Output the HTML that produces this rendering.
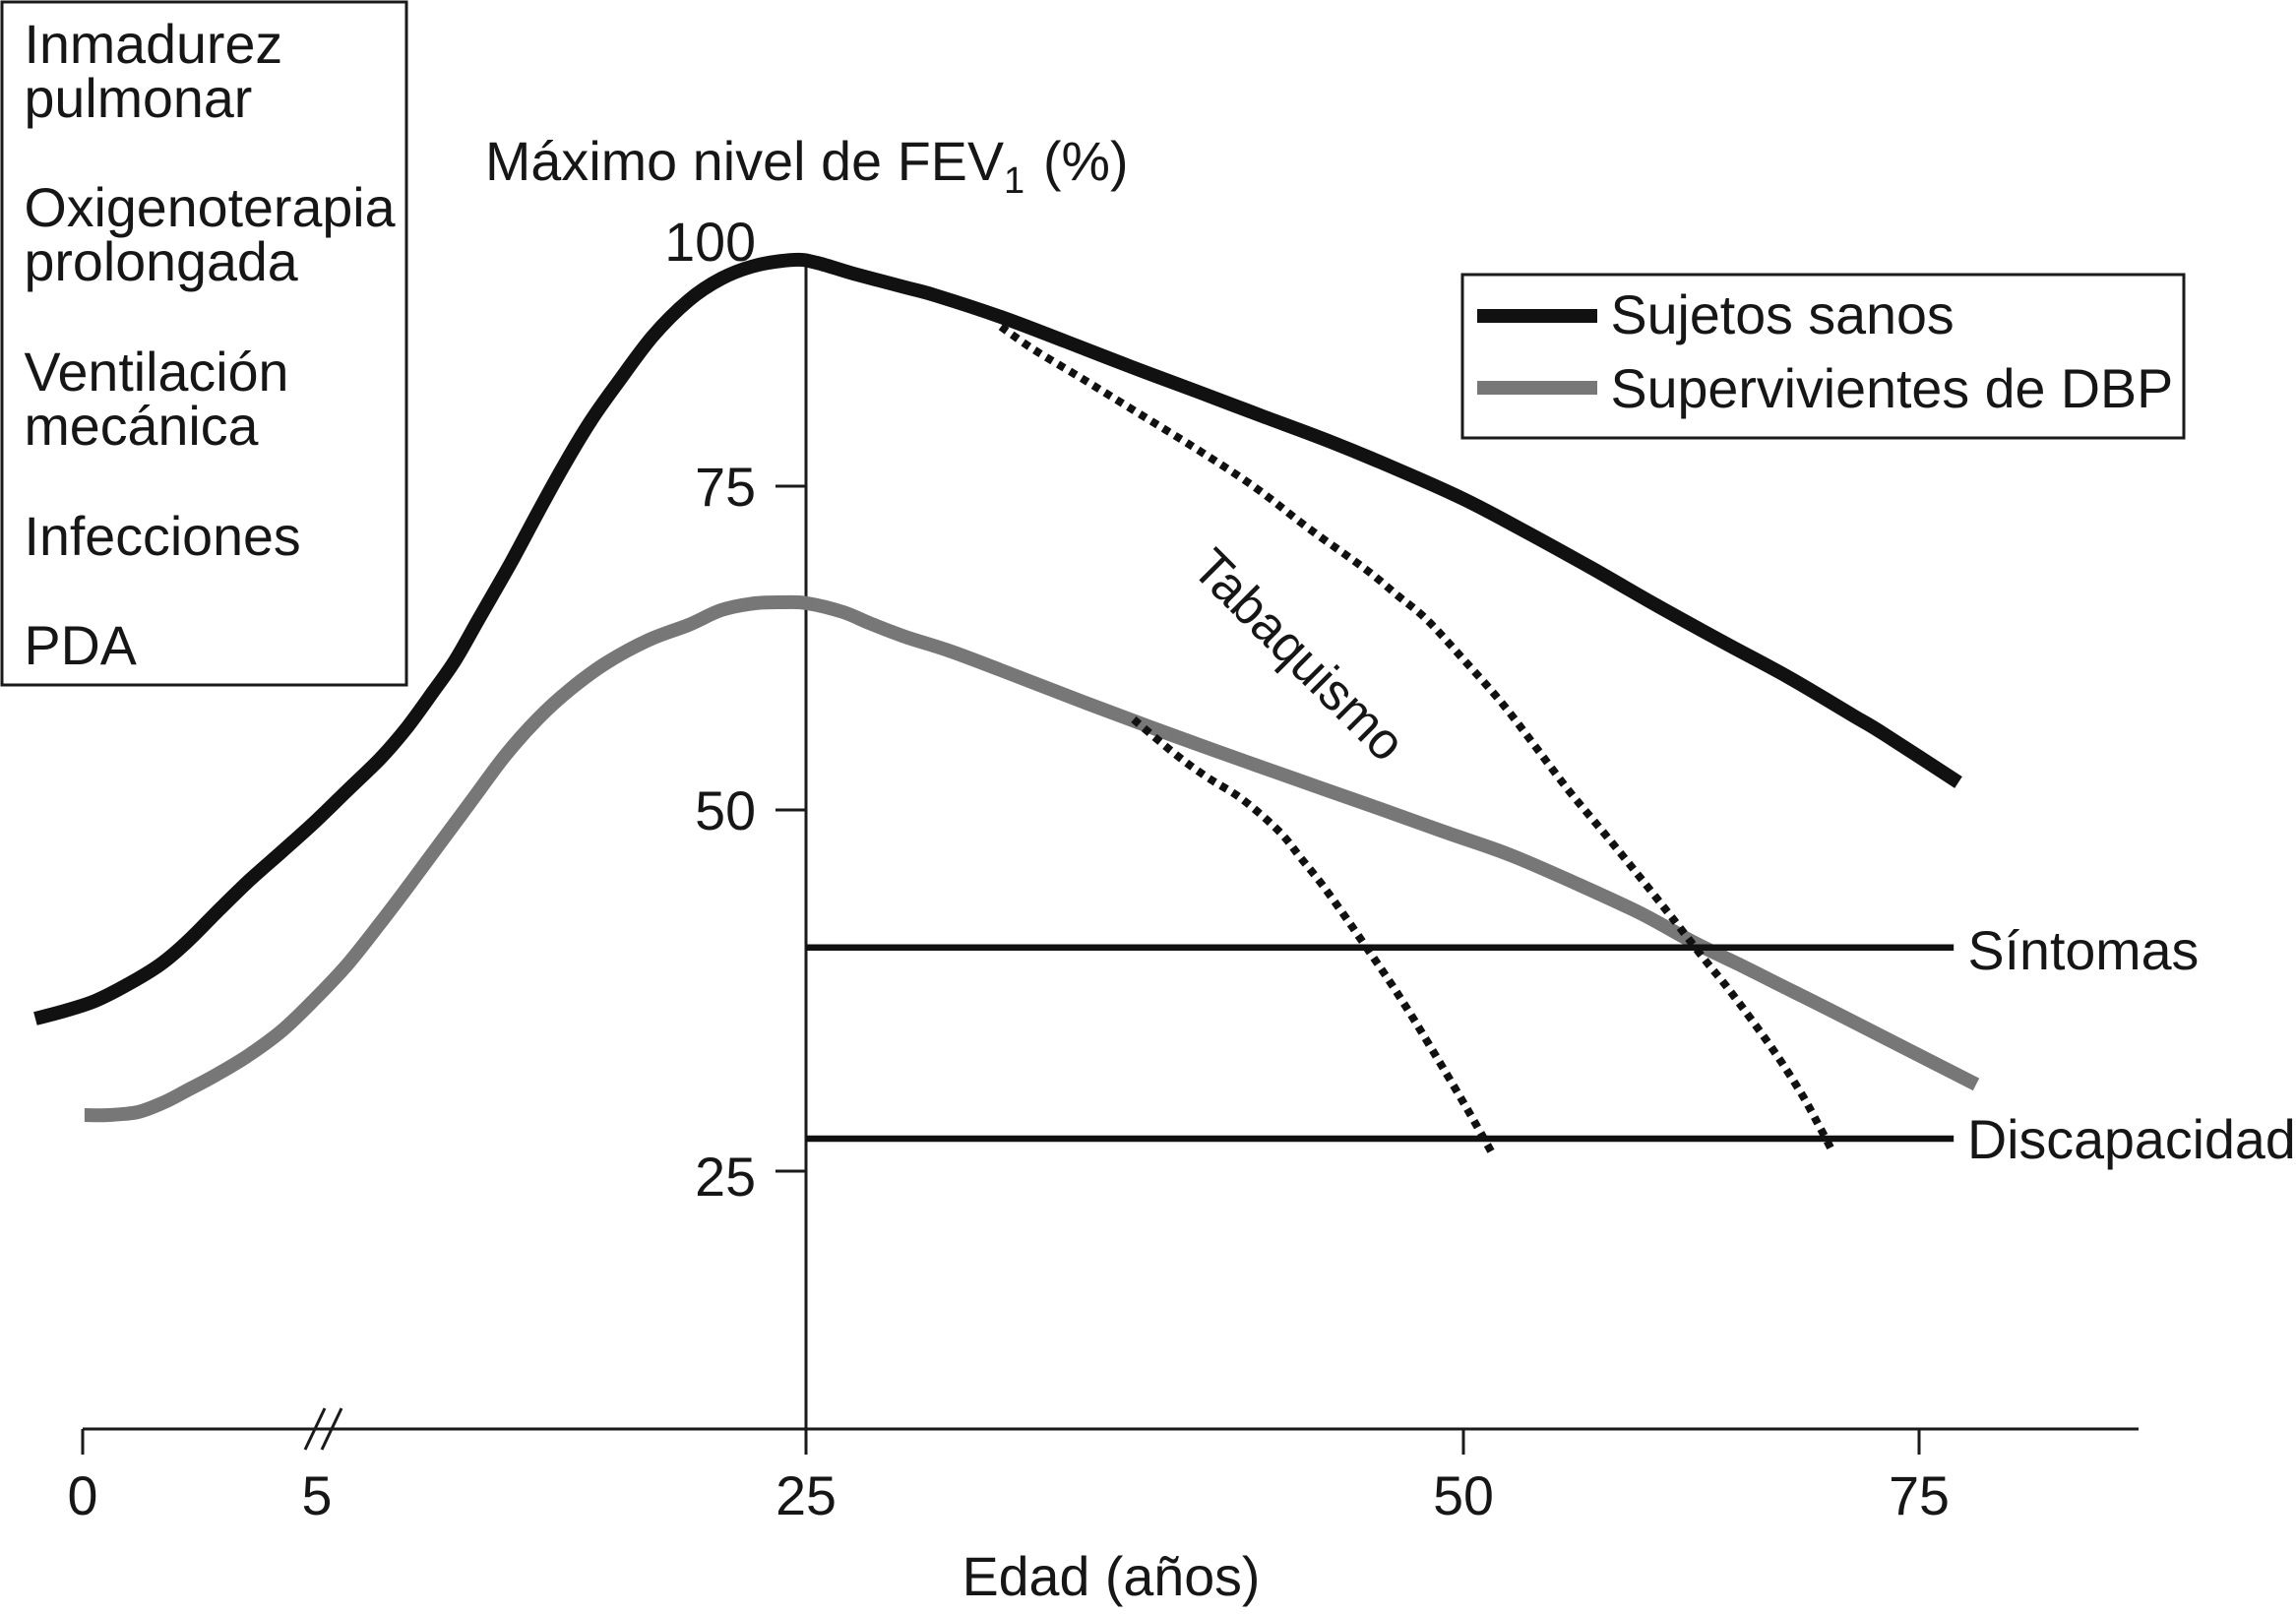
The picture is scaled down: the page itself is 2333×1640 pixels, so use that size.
<!DOCTYPE html>
<html lang="es">
<head>
<meta charset="utf-8">
<title>Máximo nivel de FEV1 según la edad</title>
<style>
html,body{margin:0;padding:0;background:#fff;}
svg{display:block;}
text{font-family:"Liberation Sans",Arial,sans-serif;font-size:55.6px;fill:#161616;}
</style>
</head>
<body>
<svg id="chart" xmlns="http://www.w3.org/2000/svg" width="2333" height="1640" viewBox="0 0 2333 1640">
  <rect x="2" y="2" width="411" height="694" fill="#fff" stroke="#1a1a1a" stroke-width="3"/>
  <text x="24.5" y="64">Inmadurez</text>
  <text x="24.5" y="119">pulmonar</text>
  <text x="24.5" y="230">Oxigenoterapia</text>
  <text x="24.5" y="285">prolongada</text>
  <text x="24.5" y="397">Ventilación</text>
  <text x="24.5" y="452">mecánica</text>
  <text x="24.5" y="564">Infecciones</text>
  <text x="24.5" y="675">PDA</text>

  <text x="493" y="183"><tspan letter-spacing="0.1">Máximo nivel de FEV</tspan><tspan x="1020" dy="13" style="font-size:38px">1</tspan><tspan x="1060" dy="-13">(%)</tspan></text>
  <text x="1129" y="1621" text-anchor="middle">Edad (años)</text>
  <text transform="translate(1209,580) rotate(45)" style="font-size:53px" textLength="278" lengthAdjust="spacingAndGlyphs">Tabaquismo</text>

  <g id="axes"></g>
  <g id="series"></g>

  <rect x="1486" y="279" width="733" height="166" fill="#fff" stroke="#1a1a1a" stroke-width="3"/>
  <rect x="1501" y="314" width="122" height="14" fill="#111"/>
  <text x="1636.5" y="339">Sujetos sanos</text>
  <rect x="1501" y="387" width="122" height="14" fill="#777"/>
  <text x="1636.5" y="414">Supervivientes de DBP</text>

  <text x="1999.5" y="985">Síntomas</text>
  <text x="1999" y="1177">Discapacidad</text>
</svg>
<script>
// ---- data ----
const xTicks = [0, 5, 25, 50, 75];
const xTickMarks = [0, 25, 50, 75];
const yTicks = [25, 50, 75];
const yLabels = [25, 50, 75, 100];

const healthyAge = [-1.01,-0.44,0.27,0.97,1.66,2.23,2.86,3.55,4.26,4.96,6.25,7.62,8.66,9.75,10.67,11.64,12.97,14.05,15.10,16.19,17.27,18.72,20.21,21.54,22.91,24.52,25.41,26.80,28.78,29.90,32.41,34.88,37.39,39.90,42.37,44.87,47.49,50.0,53.40,57.02,60.58,64.20,67.82,71.38,73.0,77.16];
const healthyFev = [35.56,36.04,36.79,37.94,39.31,40.87,42.92,45.10,47.14,49.18,51.52,54.03,56.31,59.12,61.6,64.82,69.22,73.02,77.11,81.63,85.44,90.26,93.98,96.18,97.49,98.09,97.79,96.69,95.28,94.48,92.27,89.76,87.15,84.64,82.13,79.62,76.71,74.01,71.50,68.69,65.81,63.0,60.26,57.29,55.93,52.13];

const dbpAge = [0.04,0.55,1.18,1.74,2.23,2.86,3.55,4.26,4.96,6.25,7.62,8.66,10.03,11.36,12.69,14.05,15.38,16.87,18.60,20.21,21.54,22.91,24.11,25.04,26.42,27.40,28.78,30.54,33.01,35.52,38.02,40.49,43.64,46.74,49.25,52.48,56.10,59.72,62.58,65.12,67.28,70.52,78.13];
const dbpFev = [28.88,28.88,29.09,29.77,30.59,31.68,33.04,34.74,36.92,39.31,42.23,44.55,47.68,50.8,54.18,57.07,59.35,61.40,63.15,64.29,65.43,65.96,66.03,65.96,65.27,64.44,63.37,62.23,60.33,58.36,56.46,54.63,52.36,50.15,48.50,46.93,44.96,42.85,40.87,39.31,37.94,35.90,31.0];

const smokeHealthyAge = [32.41,33.65,35.52,37.65,39.90,42.07,44.12,46.26,47.49,48.62,50.05,52.05,53.89,55.72,57.61,59.50,61.39,63.23,64.63,66.85,68.47,69.60,70.19];
const smokeHealthyFev = [91.27,88.96,85.94,82.43,78.71,74.92,71.73,68.62,66.57,64.67,61.55,58.36,55.01,51.60,48.57,45.64,42.64,39.65,37.47,33.65,30.52,27.93,26.50];

const smokeDbpAge = [37.46,39.07,40.27,41.58,43.0,43.82,44.80,46.30,47.75,49.36,50.59,51.67];
const smokeDbpFev = [56.99,54.26,52.51,50.84,48.50,46.66,44.41,40.52,36.57,31.73,28.46,26.02];

const symptomsLevel = 40.48;
const disabilityLevel = 27.25;
const thresholdStartAge = 25;
const thresholdEndAge = 76.9;

// ---- axis functions (the printed axes are not linear, so they are piecewise) ----
const xKnots = [[0,84],[5,322],[25,819],[50,1487],[75,1950]];
const yKnots = [[25,1190],[50,823],[75,494],[100,245]];
function piecewise(knots, v){
  let i = 0;
  while (i < knots.length - 2 && v > knots[i+1][0]) i++;
  const a = knots[i], b = knots[i+1];
  return a[1] + (v - a[0]) * (b[1] - a[1]) / (b[0] - a[0]);
}
function xScale(v){ return piecewise(xKnots, v); }
function yScale(v){ return piecewise(yKnots, v); }

const NS = 'http://www.w3.org/2000/svg';
function make(tag, attrs, parent){
  const el = document.createElementNS(NS, tag);
  for (const k in attrs) el.setAttribute(k, attrs[k]);
  parent.appendChild(el);
  return el;
}
function smoothPath(xs, ys){
  const p = xs.map((x, i) => [xScale(x), yScale(ys[i])]);
  let d = 'M' + p[0][0].toFixed(1) + ' ' + p[0][1].toFixed(1);
  for (let i = 0; i < p.length - 1; i++){
    const p0 = p[Math.max(0, i-1)], p1 = p[i], p2 = p[i+1], p3 = p[Math.min(p.length-1, i+2)];
    const c1x = p1[0] + (p2[0]-p0[0])/6, c1y = p1[1] + (p2[1]-p0[1])/6;
    const c2x = p2[0] - (p3[0]-p1[0])/6, c2y = p2[1] - (p3[1]-p1[1])/6;
    d += ' C' + c1x.toFixed(1) + ' ' + c1y.toFixed(1) + ' ' + c2x.toFixed(1) + ' ' + c2y.toFixed(1) + ' ' + p2[0].toFixed(1) + ' ' + p2[1].toFixed(1);
  }
  return d;
}

const axes = document.getElementById('axes');
const series = document.getElementById('series');
const axisY = 1452, axisEnd = 2173, axisTop = 266, tickLen = 26, yTickLen = 31;
const axisStyle = {stroke:'#1a1a1a','stroke-width':3,fill:'none'};

// x axis
const xAxisLine = make('line', Object.assign({x1:xScale(0),y1:axisY,x2:axisEnd,y2:axisY}, axisStyle), axes);


xTickMarks.forEach(t => {
  const tick = make('line', Object.assign({x1:xScale(t),y1:axisY,x2:xScale(t),y2:axisY+tickLen}, axisStyle), axes);
  
  
});
xTicks.forEach(t => {
  const label = make('text', {x:xScale(t), y:1539, 'text-anchor':'middle'}, axes);
  label.textContent = t;
  
  
});
// axis break marks beside age 5
[-12, 5].forEach((off, i) => {
  const slash = make('line', Object.assign({x1:xScale(5)+off,y1:axisY+21,x2:xScale(5)+off+20,y2:axisY-21}, axisStyle), axes);
  
  
});

// y axis
const yAxisLine = make('line', Object.assign({x1:xScale(25),y1:axisTop,x2:xScale(25),y2:axisY}, axisStyle), axes);


yTicks.forEach(t => {
  const tick = make('line', Object.assign({x1:xScale(25)-yTickLen,y1:yScale(t),x2:xScale(25),y2:yScale(t)}, axisStyle), axes);
  
  
});
yLabels.forEach(t => {
  const label = make('text', {x:768, y:yScale(t) + (t === 25 ? 25 : 20), 'text-anchor':'end'}, axes);
  label.textContent = t;
  
  
});

// series
const dbpLine = make('path', {d:smoothPath(dbpAge, dbpFev), fill:'none', stroke:'#777', 'stroke-width':14}, series);



const healthyLine = make('path', {d:smoothPath(healthyAge, healthyFev), fill:'none', stroke:'#111', 'stroke-width':14}, series);



const smokeHealthy = make('path', {d:smoothPath(smokeHealthyAge, smokeHealthyFev), fill:'none', stroke:'#111', 'stroke-width':8, 'stroke-dasharray':'7.5 6.4'}, series);



const smokeDbp = make('path', {d:smoothPath(smokeDbpAge, smokeDbpFev), fill:'none', stroke:'#111', 'stroke-width':8, 'stroke-dasharray':'7.5 6.4'}, series);



const symptomsLine = make('line', {x1:xScale(thresholdStartAge), y1:yScale(symptomsLevel), x2:xScale(thresholdEndAge), y2:yScale(symptomsLevel), stroke:'#111', 'stroke-width':6.5}, series);



const disabilityLine = make('line', {x1:xScale(thresholdStartAge), y1:yScale(disabilityLevel), x2:xScale(thresholdEndAge), y2:yScale(disabilityLevel), stroke:'#111', 'stroke-width':6.5}, series);


</script>
</body>
</html>
